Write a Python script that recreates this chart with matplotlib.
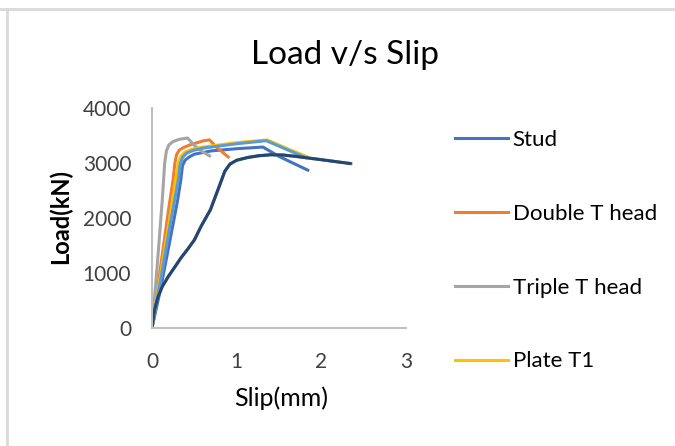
import matplotlib.pyplot as plt
from matplotlib.lines import Line2D

# slip (mm) / load (kN)
stud_x = [0, 0.1, 0.2, 0.30, 0.34, 0.36, 0.39, 0.44, 0.5, 0.7, 1.0, 1.31, 1.5, 1.84]
stud_y = [0, 700, 1500, 2300, 2690, 2950, 3050, 3110, 3160, 3220, 3260, 3290, 3120, 2870]

double_x = [0, 0.1, 0.2, 0.25, 0.27, 0.29, 0.32, 0.37, 0.45, 0.6, 0.68, 0.76, 0.9]
double_y = [0, 1100, 2200, 2700, 3000, 3150, 3230, 3280, 3330, 3400, 3420, 3290, 3110]

triple_x = [0, 0.06, 0.12, 0.15, 0.17, 0.2, 0.25, 0.32, 0.42, 0.5, 0.6, 0.68]
triple_y = [0, 1100, 2300, 3000, 3220, 3330, 3390, 3430, 3455, 3320, 3200, 3130]

plate1_x = [0, 0.1, 0.2, 0.28, 0.31, 0.34, 0.39, 0.47, 0.6, 1.0, 1.36, 1.6, 1.83]
plate1_y = [0, 950, 1900, 2700, 3000, 3120, 3200, 3250, 3290, 3370, 3420, 3260, 3115]

series5_x = [0, 0.1, 0.2, 0.31, 0.33, 0.36, 0.41, 0.49, 0.6, 1.0, 1.35, 1.6, 1.81]
series5_y = [0, 850, 1750, 2690, 2950, 3100, 3180, 3230, 3270, 3350, 3405, 3240, 3100]

series6_x = [0, 0.03, 0.07, 0.12, 0.19, 0.27, 0.34, 0.42, 0.5, 0.58, 0.69, 0.8, 0.86, 0.92,
             1.0, 1.13, 1.25, 1.4, 1.55, 1.7, 2.0, 2.35]
series6_y = [0, 330, 560, 750, 930, 1110, 1270, 1430, 1600, 1850, 2150, 2600, 2850, 2980,
             3050, 3100, 3130, 3150, 3145, 3120, 3060, 2990]

series7_x = [0, 0.03, 0.07, 0.12, 0.19, 0.27, 0.34, 0.42, 0.5, 0.58, 0.69, 0.8, 0.86, 0.92,
             1.0, 1.13, 1.25, 1.4, 1.55, 1.7, 2.0, 2.34]
series7_y = [0, 330, 560, 750, 930, 1110, 1270, 1430, 1600, 1850, 2150, 2600, 2850, 2980,
             3050, 3100, 3130, 3150, 3145, 3120, 3060, 2990]

x_ticks = [0, 1, 2, 3]
y_ticks = [0, 1000, 2000, 3000, 4000]

plt.rcParams['font.family'] = ['Lato', 'DejaVu Sans']

fig = plt.figure(figsize=(6.75, 4.46), dpi=100)
ax = fig.add_axes([152 / 675, 118 / 446, 254 / 675, 220 / 446])

lw = 2.2
ax.plot(stud_x, stud_y, color='#4472C4', lw=lw, label='Stud')
ax.plot(double_x, double_y, color='#ED7D31', lw=lw, label='Double T head')
ax.plot(triple_x, triple_y, color='#A5A5A5', lw=lw, label='Triple T head')
ax.plot(plate1_x, plate1_y, color='#FFC000', lw=lw, label='Plate T1')
ax.plot(series5_x, series5_y, color='#5B9BD5', lw=lw, label='_nolegend_')
ax.plot(series6_x, series6_y, color='#70AD47', lw=lw, label='_nolegend_')
ax.plot(series7_x, series7_y, color='#264478', lw=lw, label='_nolegend_')

ax.set_xlim(0, 3)
ax.set_ylim(0, 4000)
ax.set_xticks(x_ticks)
ax.set_yticks(y_ticks)
ax.tick_params(length=0, labelsize=15, colors='#404040')
ax.tick_params(axis='y', pad=15)
ax.tick_params(axis='x', pad=17)
for s in ['top', 'right']:
    ax.spines[s].set_visible(False)
for s in ['left', 'bottom']:
    ax.spines[s].set_color('#BFBFBF')
    ax.spines[s].set_linewidth(1.5)

fig.text(281 / 675, 1 - 398 / 446, 'Slip(mm)', fontsize=18, ha='center', va='center')
fig.text(60 / 675, 1 - 217 / 446, 'Load(kN)', fontsize=17, fontweight='bold',
         rotation=90, ha='center', va='center')
fig.text(345 / 675, 1 - 55 / 446, 'Load v/s Slip', fontsize=24, ha='center', va='center')

ax.legend(loc='upper left', bbox_to_anchor=(455 / 675, 1 - 130 / 446),
          bbox_transform=fig.transFigure, frameon=False, fontsize=16,
          handlelength=2.4, handletextpad=0.2, labelspacing=2.42,
          borderaxespad=0, borderpad=0)

# chart frame (cropped on the right and bottom)
fig.add_artist(Line2D([0, 1], [1 - 9 / 446, 1 - 9 / 446], color='#D9D9D9', lw=2))
fig.add_artist(Line2D([7 / 675, 7 / 675], [0, 1 - 9 / 446], color='#D9D9D9', lw=2))

fig.savefig('out.png', dpi=100)
